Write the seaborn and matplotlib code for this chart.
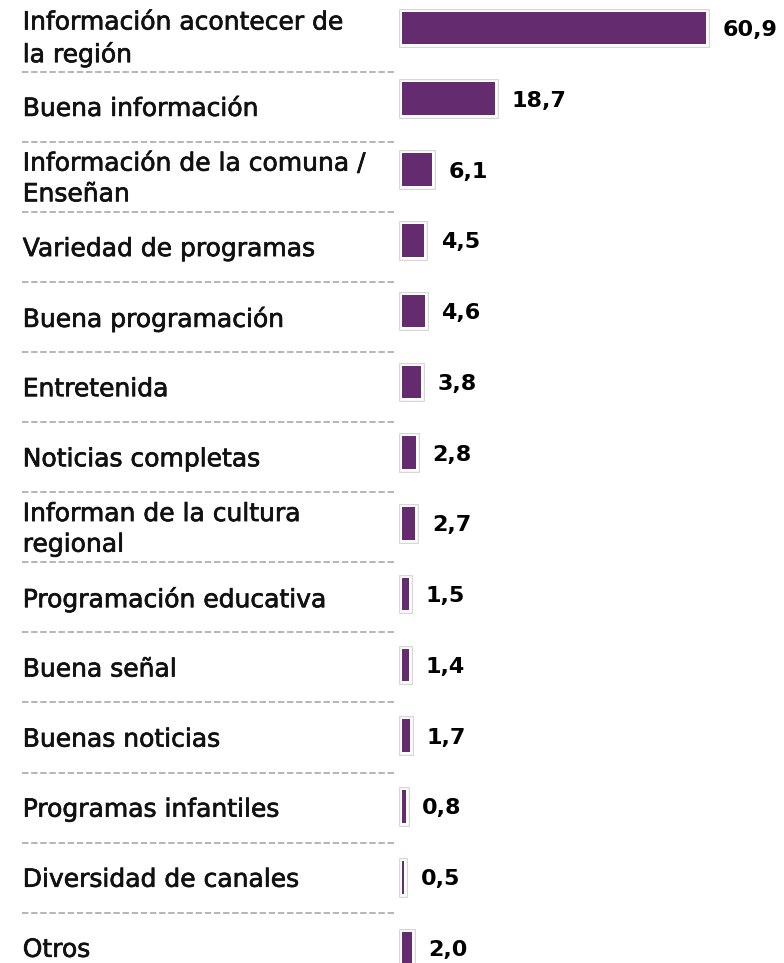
import matplotlib
matplotlib.use("Agg")
import matplotlib.pyplot as plt
import matplotlib.patheffects as pe
import seaborn as sns
import pandas as pd
import numpy as np

categories = [
    "Información acontecer de\nla región",
    "Buena información",
    "Información de la comuna /\nEnseñan",
    "Variedad de programas",
    "Buena programación",
    "Entretenida",
    "Noticias completas",
    "Informan de la cultura\nregional",
    "Programación educativa",
    "Buena señal",
    "Buenas noticias",
    "Programas infantiles",
    "Diversidad de canales",
    "Otros",
]
values = [60.9, 18.7, 6.1, 4.5, 4.6, 3.8, 2.8, 2.7, 1.5, 1.4, 1.7, 0.8, 0.5, 2.0]

purple = "#652b6f"

sns.set_theme(style="white")
plt.rcParams["font.family"] = ["DejaVu Sans"]

df = pd.DataFrame({"cat": categories, "val": values})

fig = plt.figure(figsize=(7.84, 9.63), dpi=100)

# left column: labels and dashed separators
ax_lab = fig.add_axes([0, 0, 1, 1])
ax_lab.set_xlim(0, 1)
ax_lab.set_ylim(13.218, -0.524)
ax_lab.axis("off")
for i, lab in enumerate(categories):
    ax_lab.text(0.029, i + 0.03, lab, ha="left", va="center", fontsize=18,
                color="#111111", linespacing=1.35,
                path_effects=[pe.withStroke(linewidth=0.5, foreground="#111111")])
seps = np.arange(len(categories) - 1) + 0.5
ax_lab.hlines(seps, 0.0277, 0.504, colors="#b5b5b5", linewidth=1.4,
              linestyles=(0, (3.3, 1.4)))

# bars
ax_bar = fig.add_axes([0, 0, 1, 1])
ax_bar.patch.set_visible(False)
sns.barplot(data=df, x="val", y="cat", orient="h", color=purple,
            saturation=1, width=0.46, ax=ax_bar)
ax_bar.set_xlim(-80.34, 76.46)
ax_bar.set_ylim(13.212, -0.3957)
ax_bar.axis("off")
for p in ax_bar.patches:
    p.set_linewidth(0)
    p.set_path_effects([
        pe.Stroke(linewidth=4.8, foreground="#cfcfcf"),
        pe.Stroke(linewidth=3.3, foreground="white"),
        pe.Normal(),
    ])

for i, v in enumerate(values):
    ax_bar.annotate(f"{v:.1f}".replace(".", ","), xy=(v, i), xytext=(12, 0),
                    textcoords="offset points", ha="left", va="center_baseline",
                    fontsize=16, fontweight="bold", color="black")

fig.savefig("out.png", dpi=100)
